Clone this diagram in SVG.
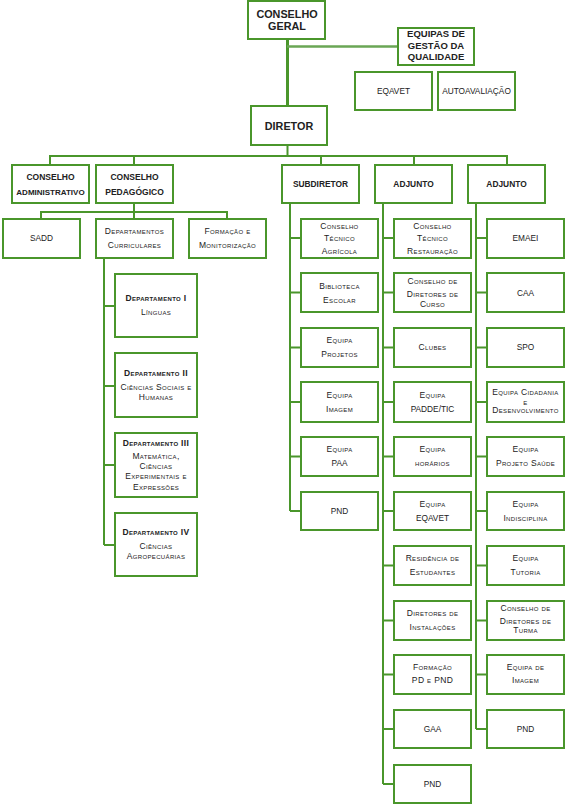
<svg xmlns="http://www.w3.org/2000/svg" width="567" height="804" viewBox="0 0 567 804">
<style>
.bx{fill:#fff;stroke:#4a962b;stroke-width:2}
.ln{stroke:#4a962b;stroke-width:2;fill:none}
text{font-family:"Liberation Sans",Arial,sans-serif;text-anchor:middle;fill:#222}
.h{font-weight:bold;font-size:8.4px}
.hl{font-weight:bold;font-size:10.8px}
.t{font-size:8.5px;font-variant:small-caps;letter-spacing:.35px}
.tb{font-size:8.5px;font-variant:small-caps;letter-spacing:.35px;font-weight:bold}
.u{font-size:8.3px}
</style>
<g id="connectors">
<line class="ln" x1="287.5" y1="39" x2="287.5" y2="106" style="stroke-width:3"/>
<line class="ln" x1="287" y1="46.5" x2="397" y2="46.5" style="stroke:#6aa655;stroke-width:2.5"/>
<line class="ln" x1="287.5" y1="145" x2="287.5" y2="157"/>
<line class="ln" x1="49" y1="156" x2="508" y2="156"/>
<path class="ln" d="M50 156V165M134 156V165M321 156V165M414 156V165M507 156V165"/>
<path class="ln" d="M134 203V212M40 212H228M41 212V218M134 212V218M227 212V218"/>
<path class="ln" d="M104 258V545M104 306H114M104 386H114M104 465H114M104 545H114"/>
<path class="ln" d="M290 203V511M290 238H301M290 292.5H301M290 347.5H301M290 402H301M290 456.5H301M290 511H301"/>
<path class="ln" d="M383 203V784M383 238H394M383 292.5H394M383 347.5H394M383 402H394M383 456.5H394M383 511H394M383 565.5H394M383 620.5H394M383 674.5H394M383 729H394M383 784H394"/>
<path class="ln" d="M476 203V729M476 238H487M476 292.5H487M476 347.5H487M476 402H487M476 456.5H487M476 511H487M476 565.5H487M476 620.5H487M476 674.5H487M476 729H487"/>
</g>
<g id="conselho-geral"><rect class="bx" x="248" y="1" width="77" height="38"/><text class="hl" x="287" y="17.5">CONSELHO</text><text class="hl" x="287" y="29.5">GERAL</text></g>
<g id="equipas-gestao"><rect class="bx" x="398" y="28" width="76" height="37"/><text class="h" style="font-size:9.5px" x="436" y="37">EQUIPAS DE</text><text class="h" style="font-size:9.5px" x="436" y="48.5">GESTÃO DA</text><text class="h" style="font-size:9.5px" x="436" y="59.5">QUALIDADE</text></g>
<g id="eqavet-top"><rect class="bx" x="355" y="72" width="77" height="38"/><text class="u" x="393.5" y="94">EQAVET</text></g>
<g id="autoavaliacao"><rect class="bx" x="438" y="72" width="77" height="38"/><text class="u" x="476.5" y="94">AUTOAVALIAÇÃO</text></g>
<g id="diretor"><rect class="bx" x="251" y="106" width="76" height="39"/><text class="hl" x="289" y="129.5">DIRETOR</text></g>
<g id="conselho-administrativo"><rect class="bx" x="12" y="165" width="77" height="38"/><text class="h" x="50.5" y="179.5" style="font-size:8.5px">CONSELHO</text><text class="h" x="50.5" y="194.7" style="font-size:8px">ADMINISTRATIVO</text></g>
<g id="conselho-pedagogico"><rect class="bx" x="96" y="165" width="77" height="38"/><text class="h" x="134.5" y="179.5" style="font-size:8.5px">CONSELHO</text><text class="h" x="134.5" y="194.7" style="font-size:8.5px">PEDAGÓGICO</text></g>
<g id="subdiretor"><rect class="bx" x="282" y="165" width="77" height="38"/><text class="h" x="320.5" y="187">SUBDIRETOR</text></g>
<g id="adjunto-1"><rect class="bx" x="375" y="165" width="77" height="38"/><text class="h" x="413.5" y="187">ADJUNTO</text></g>
<g id="adjunto-2"><rect class="bx" x="468" y="165" width="77" height="38"/><text class="h" x="506.5" y="187">ADJUNTO</text></g>
<g id="sadd"><rect class="bx" x="3" y="219" width="77" height="39"/><text class="u" x="41.5" y="241">SADD</text></g>
<g id="departamentos-curriculares"><rect class="bx" x="96" y="219" width="77" height="39"/><text class="t" x="134.5" y="234">Departamentos</text><text class="t" x="134.5" y="248">Curriculares</text></g>
<g id="formacao-monitorizacao"><rect class="bx" x="189" y="219" width="77" height="39"/><text class="t" x="227.5" y="234">Formação e</text><text class="t" x="227.5" y="248">Monitorização</text></g>
<g id="dep-1"><rect class="bx" x="115" y="274" width="82" height="63"/><text class="tb" x="156" y="300.7">Departamento I</text><text class="t" x="156" y="315.3">Línguas</text></g>
<g id="dep-2"><rect class="bx" x="115" y="353" width="82" height="64"/><text class="tb" x="156" y="376.3">Departamento II</text><text class="t" x="156" y="390.3">Ciências Sociais e</text><text class="t" x="156" y="399.7">Humanas</text></g>
<g id="dep-3"><rect class="bx" x="115" y="433" width="82" height="64"/><text class="tb" x="156" y="445.7">Departamento III</text><text class="t" x="156" y="459">Matemática,</text><text class="t" x="156" y="468.7">Ciências</text><text class="t" x="156" y="479">Experimentais e</text><text class="t" x="156" y="490">Expressões</text></g>
<g id="dep-4"><rect class="bx" x="115" y="513" width="82" height="63"/><text class="tb" x="156" y="535.3">Departamento IV</text><text class="t" x="156" y="549">Ciências</text><text class="t" x="156" y="559">Agropecuárias</text></g>
<g id="s-1"><rect class="bx" x="301" y="219" width="77" height="39"/><text class="t" x="339.5" y="228.7">Conselho</text><text class="t" x="339.5" y="241">Técnico</text><text class="t" x="339.5" y="254.3">Agrícola</text></g>
<g id="s-2"><rect class="bx" x="301" y="273" width="77" height="39"/><text class="t" x="339.5" y="289">Biblioteca</text><text class="t" x="339.5" y="303">Escolar</text></g>
<g id="s-3"><rect class="bx" x="301" y="328" width="77" height="39"/><text class="t" x="339.5" y="343">Equipa</text><text class="t" x="339.5" y="357">Projetos</text></g>
<g id="s-4"><rect class="bx" x="301" y="382" width="77" height="40"/><text class="t" x="339.5" y="398">Equipa</text><text class="t" x="339.5" y="412">Imagem</text></g>
<g id="s-5"><rect class="bx" x="301" y="437" width="77" height="39"/><text class="t" x="339.5" y="452.3">Equipa</text><text class="u" x="339.5" y="466">PAA</text></g>
<g id="s-6"><rect class="bx" x="301" y="492" width="77" height="38"/><text class="u" x="339.5" y="514">PND</text></g>
<g id="a1-1"><rect class="bx" x="394" y="219" width="77" height="39"/><text class="t" x="432.5" y="228.7">Conselho</text><text class="t" x="432.5" y="241">Técnico</text><text class="t" x="432.5" y="254.3">Restauração</text></g>
<g id="a1-2"><rect class="bx" x="394" y="273" width="77" height="39"/><text class="t" x="432.5" y="283.7">Conselho de</text><text class="t" x="432.5" y="297">Diretores de</text><text class="t" x="432.5" y="307">Curso</text></g>
<g id="a1-3"><rect class="bx" x="394" y="328" width="77" height="39"/><text class="t" x="432.5" y="350.3">Clubes</text></g>
<g id="a1-4"><rect class="bx" x="394" y="382" width="77" height="40"/><text class="t" x="432.5" y="398">Equipa</text><text class="u" x="432.5" y="412.3">PADDE/TIC</text></g>
<g id="a1-5"><rect class="bx" x="394" y="437" width="77" height="39"/><text class="t" x="432.5" y="452.3">Equipa</text><text class="t" x="432.5" y="465.7">horários</text></g>
<g id="a1-6"><rect class="bx" x="394" y="492" width="77" height="38"/><text class="t" x="432.5" y="507.3">Equipa</text><text class="u" x="432.5" y="521">EQAVET</text></g>
<g id="a1-7"><rect class="bx" x="394" y="546" width="77" height="39"/><text class="t" x="432.5" y="561.3">Residência de</text><text class="t" x="432.5" y="575.3">Estudantes</text></g>
<g id="a1-8"><rect class="bx" x="394" y="601" width="77" height="39"/><text class="t" x="432.5" y="616.3">Diretores de</text><text class="t" x="432.5" y="630.3">Instalações</text></g>
<g id="a1-9"><rect class="bx" x="394" y="655" width="77" height="39"/><text class="t" x="432.5" y="670.3">Formação</text><text class="t" x="432.5" y="683.3">PD e PND</text></g>
<g id="a1-10"><rect class="bx" x="394" y="710" width="77" height="38"/><text class="u" x="432.5" y="732">GAA</text></g>
<g id="a1-11"><rect class="bx" x="394" y="765" width="77" height="38"/><text class="u" x="432.5" y="787">PND</text></g>
<g id="a2-1"><rect class="bx" x="487" y="219" width="77" height="39"/><text class="u" x="525.5" y="241">EMAEI</text></g>
<g id="a2-2"><rect class="bx" x="487" y="273" width="77" height="39"/><text class="u" x="525.5" y="295.7">CAA</text></g>
<g id="a2-3"><rect class="bx" x="487" y="328" width="77" height="39"/><text class="u" x="525.5" y="350.3">SPO</text></g>
<g id="a2-4"><rect class="bx" x="487" y="382" width="77" height="40"/><text class="t" x="525.5" y="395.3">Equipa Cidadania</text><text class="t" x="525.5" y="404.7">e</text><text class="t" x="525.5" y="413.3">Desenvolvimento</text></g>
<g id="a2-5"><rect class="bx" x="487" y="437" width="77" height="39"/><text class="t" x="525.5" y="452.3">Equipa</text><text class="t" x="525.5" y="465.7">Projeto Saúde</text></g>
<g id="a2-6"><rect class="bx" x="487" y="492" width="77" height="38"/><text class="t" x="525.5" y="507.3">Equipa</text><text class="t" x="525.5" y="520.7">Indisciplina</text></g>
<g id="a2-7"><rect class="bx" x="487" y="546" width="77" height="39"/><text class="t" x="525.5" y="561.3">Equipa</text><text class="t" x="525.5" y="575.3">Tutoria</text></g>
<g id="a2-8"><rect class="bx" x="487" y="601" width="77" height="39"/><text class="t" x="525.5" y="611.3">Conselho de</text><text class="t" x="525.5" y="624">Diretores de</text><text class="t" x="525.5" y="633">Turma</text></g>
<g id="a2-9"><rect class="bx" x="487" y="655" width="77" height="39"/><text class="t" x="525.5" y="670.3">Equipa de</text><text class="t" x="525.5" y="683">Imagem</text></g>
<g id="a2-10"><rect class="bx" x="487" y="710" width="77" height="38"/><text class="u" x="525.5" y="732">PND</text></g>
</svg>
